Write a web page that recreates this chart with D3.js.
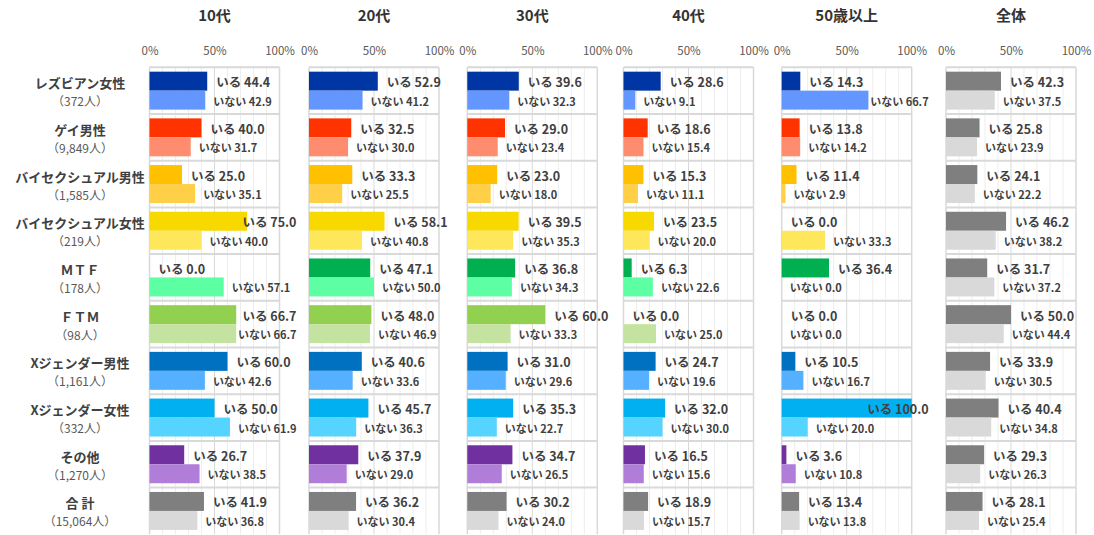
<!DOCTYPE html>
<html lang="ja">
<head>
<meta charset="utf-8">
<script src="https://cdn.jsdelivr.net/npm/d3@7"></script>
<style>
  html, body { margin: 0; padding: 0; background: #fff; }
  svg { display: block; font-family: "Noto Sans CJK JP", "Noto Sans", sans-serif; }
</style>
</head>
<body>
<svg id="chart" width="1094" height="535"></svg>
<script>
// 年代別パネル
const ages = ["10代", "20代", "30代", "40代", "50歳以上", "全体"];

// 回答者の属性
const categories = ["レズビアン女性", "ゲイ男性", "バイセクシュアル男性", "バイセクシュアル女性",
  "ＭＴＦ", "ＦＴＭ", "Xジェンダー男性", "Xジェンダー女性", "その他", "合 計"];
const counts = ["（372人）", "（9,849人）", "（1,585人）", "（219人）", "（178人）",
  "（98人）", "（1,161人）", "（332人）", "（1,270人）", "（15,064人）"];

// 系列名
const seriesNames = ["いる", "いない"];

// 「いる」の割合（%）
const iru10  = [44.4, 40.0, 25.0, 75.0, 0.0, 66.7, 60.0, 50.0, 26.7, 41.9];
const iru20  = [52.9, 32.5, 33.3, 58.1, 47.1, 48.0, 40.6, 45.7, 37.9, 36.2];
const iru30  = [39.6, 29.0, 23.0, 39.5, 36.8, 60.0, 31.0, 35.3, 34.7, 30.2];
const iru40  = [28.6, 18.6, 15.3, 23.5, 6.3, 0.0, 24.7, 32.0, 16.5, 18.9];
const iru50  = [14.3, 13.8, 11.4, 0.0, 36.4, 0.0, 10.5, 100.0, 3.6, 13.4];
const iruAll = [42.3, 25.8, 24.1, 46.2, 31.7, 50.0, 33.9, 40.4, 29.3, 28.1];

// 「いない」の割合（%）
const inai10  = [42.9, 31.7, 35.1, 40.0, 57.1, 66.7, 42.6, 61.9, 38.5, 36.8];
const inai20  = [41.2, 30.0, 25.5, 40.8, 50.0, 46.9, 33.6, 36.3, 29.0, 30.4];
const inai30  = [32.3, 23.4, 18.0, 35.3, 34.3, 33.3, 29.6, 22.7, 26.5, 24.0];
const inai40  = [9.1, 15.4, 11.1, 20.0, 22.6, 25.0, 19.6, 30.0, 15.6, 15.7];
const inai50  = [66.7, 14.2, 2.9, 33.3, 0.0, 0.0, 16.7, 20.0, 10.8, 13.8];
const inaiAll = [37.5, 23.9, 22.2, 38.2, 37.2, 44.4, 30.5, 34.8, 26.3, 25.4];

const axisTicks = [0, 50, 100];

const iruByAge  = [iru10, iru20, iru30, iru40, iru50, iruAll];
const inaiByAge = [inai10, inai20, inai30, inai40, inai50, inaiAll];

// 属性ごとの色（濃色＝いる、淡色＝いない）
const darkColors  = ["#0036A3", "#FF3300", "#FFC000", "#F7D900", "#00B050",
  "#92D050", "#0070C0", "#00B0F0", "#7030A0", "#7F7F7F"];
const lightColors = ["#6396FF", "#FF8C6E", "#FFCF48", "#FFE75C", "#5CFFA2",
  "#C5E3A0", "#55B0FF", "#55D4FF", "#B07DD8", "#D9D9D9"];
const totalDark = "#7F7F7F", totalLight = "#D9D9D9";

// レイアウト
const panelLeft = [149.5, 309, 467.3, 623.5, 781.7, 946];
const panelWidth = 130;
const plotTop = 67.3, plotBottom = 534.3;
const textColor = "#404040";

const svg = d3.select("#chart");

const y = d3.scaleBand().domain(categories).range([plotTop, plotBottom]).padding(0);
const ySub = d3.scaleBand().domain(seriesNames).range([0, y.bandwidth()])
  .paddingInner(0).paddingOuter(0.23);

// 左側の属性ラベル
const labelG = svg.append("g");
categories.forEach((c, i) => {
  const cy = y(c) + y.bandwidth() / 2;
  labelG.append("text")
    .attr("x", 80).attr("y", cy - 8)
    .attr("text-anchor", "middle").attr("dominant-baseline", "central")
    .attr("font-size", 13).attr("font-weight", 700).attr("fill", textColor)
    .text(c);
  labelG.append("text")
    .attr("x", 80).attr("y", cy + 10)
    .attr("text-anchor", "middle").attr("dominant-baseline", "central")
    .attr("font-size", 12).attr("fill", "#595959")
    .text(counts[i]);
});

ages.forEach((age, p) => {
  const x0 = panelLeft[p];
  const x = d3.scaleLinear().domain([0, 100]).range([x0, x0 + panelWidth]);
  const g = svg.append("g");
  const isAll = p === ages.length - 1;

  // パネル見出し
  g.append("text")
    .attr("x", x(50)).attr("y", 14)
    .attr("text-anchor", "middle").attr("dominant-baseline", "central")
    .attr("font-size", 15).attr("font-weight", 700).attr("fill", "#333")
    .text(age);

  // 目盛ラベル（上側）
  const axis = d3.axisTop(x).tickValues(axisTicks).tickFormat(d => d + "%").tickSize(0).tickPadding(0);
  const ax = g.append("g").attr("transform", `translate(0,${50})`).call(axis);
  ax.select(".domain").remove();
  ax.selectAll("text")
    .attr("dominant-baseline", "central").attr("dy", null).attr("y", 0)
    .attr("font-size", 11.5).attr("fill", "#595959")
    .attr("font-family", "\"Noto Sans CJK JP\", sans-serif");

  // 縦グリッド
  const grid = d3.range(10, 100, 10);
  g.selectAll(".vgrid").data(grid).join("line")
    .attr("x1", d => x(d)).attr("x2", d => x(d))
    .attr("y1", plotTop).attr("y2", plotBottom)
    .attr("stroke", d => d === 50 ? "#D9D9D9" : "#EDEDED").attr("stroke-width", 1);
  g.selectAll(".edge").data([0, 100]).join("line")
    .attr("x1", d => x(d)).attr("x2", d => x(d))
    .attr("y1", plotTop).attr("y2", plotBottom)
    .attr("stroke", "#D9D9D9").attr("stroke-width", 1.5);

  // 行区切り
  g.selectAll(".hgrid").data(categories).join("line")
    .attr("x1", x(0)).attr("x2", x(100))
    .attr("y1", d => y(d)).attr("y2", d => y(d))
    .attr("stroke", "#D9D9D9").attr("stroke-width", 2);

  const iru = iruByAge[p], inai = inaiByAge[p];
  const rows = categories.map((c, i) => [
    { cat: c, s: "いる", v: iru[i], color: isAll ? totalDark : darkColors[i] },
    { cat: c, s: "いない", v: inai[i], color: isAll ? totalLight : lightColors[i] }
  ]).flat();

  g.selectAll(".bar").data(rows).join("rect")
    .attr("x", x(0))
    .attr("y", d => y(d.cat) + ySub(d.s))
    .attr("width", d => x(d.v) - x(0))
    .attr("height", ySub.bandwidth())
    .attr("fill", d => d.color);

  // 値ラベル（パネル右端からはみ出す場合は左へ寄せる）
  const maxRight = x(100) + 17;
  g.selectAll(".val").data(rows).join("text")
    .attr("y", d => y(d.cat) + ySub(d.s) + ySub.bandwidth() / 2 + 0.5)
    .attr("dominant-baseline", "central")
    .attr("font-size", d => d.s === "いる" ? 12.5 : 11)
    .attr("font-weight", 700)
    .attr("fill", textColor)
    .text(d => `${d.s} ${d.v.toFixed(1)}`)
    .attr("x", function (d) {
      const w = this.getComputedTextLength();
      const start = x(d.v) + (d.s === "いる" ? 9 : 8);
      return Math.min(start, maxRight - w);
    });
});
</script>
</body>
</html>
